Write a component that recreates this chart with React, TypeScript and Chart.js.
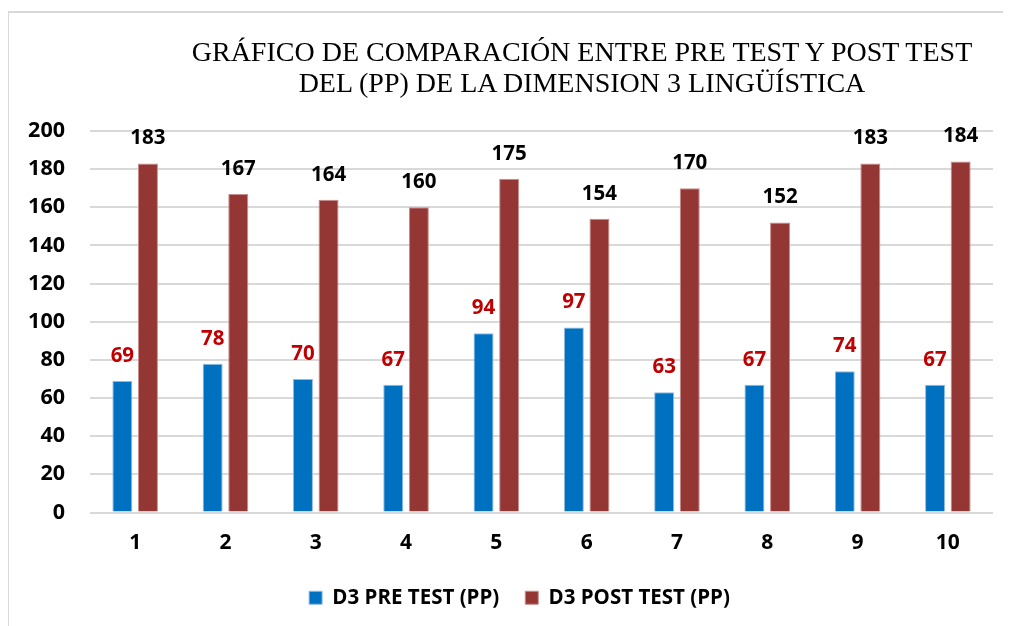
import React, { useEffect, useRef } from "react";
import { Chart, registerables } from "chart.js";

Chart.register(...registerables);

const categories = ["1", "2", "3", "4", "5", "6", "7", "8", "9", "10"];
const preTest = [69, 78, 70, 67, 94, 97, 63, 67, 74, 67];
const postTest = [183, 167, 164, 160, 175, 154, 170, 152, 183, 184];
const seriesNames = ["D3 PRE TEST (PP)", "D3 POST TEST (PP)"];
const titleLines = [
  "GRÁFICO DE COMPARACIÓN ENTRE PRE TEST Y POST TEST",
  "DEL (PP) DE LA DIMENSION 3 LINGÜÍSTICA",
];

const FONT = "'Open Sans', sans-serif";

const valueLabels = {
  id: "valueLabels",
  afterDatasetsDraw(chart: any) {
    const ctx = chart.ctx;
    ctx.save();
    ctx.font = `bold 20.5px ${FONT}`;
    ctx.textAlign = "center";
    ctx.textBaseline = "middle";
    chart.data.datasets.forEach((ds: any, i: number) => {
      const meta = chart.getDatasetMeta(i);
      ctx.fillStyle = i === 0 ? "#C00000" : "#000000";
      meta.data.forEach((el: any, j: number) => {
        ctx.fillText(String(ds.data[j]), el.x, el.y - 25);
      });
    });
    ctx.restore();
  },
};

const shiftLegend = {
  id: "shiftLegend",
  afterLayout(chart: any) {
    if (chart.legend) {
      chart.legend.left += 19;
      chart.legend.right += 19;
    }
  },
};

export default function App() {
  const ref = useRef<HTMLCanvasElement>(null);
  useEffect(() => {
    if (!ref.current) return;
    const chart = new Chart(ref.current, {
      type: "bar",
      data: {
        labels: categories,
        datasets: [
          {
            label: seriesNames[0],
            data: preTest,
            backgroundColor: "#0070C0",
            borderColor: "#8fbbe3",
            borderWidth: 1,
            categoryPercentage: 0.567,
            barPercentage: 0.781,
          },
          {
            label: seriesNames[1],
            data: postTest,
            backgroundColor: "#943634",
            borderColor: "#c98c8b",
            borderWidth: 1,
            categoryPercentage: 0.567,
            barPercentage: 0.781,
          },
        ],
      },
      options: {
        responsive: false,
        animation: false,
        layout: { padding: { top: 123, right: 18, left: 0, bottom: 8 } },
        plugins: {
          title: { display: false },
          tooltip: { enabled: false },
          legend: {
            position: "bottom",
            labels: {
              boxWidth: 13,
              boxHeight: 13,
              padding: 26,
              color: "#000",
              font: { family: FONT, weight: "bold", size: 20.5 },
            },
          },
        },
        scales: {
          x: {
            grid: { display: false },
            border: { display: false },
            ticks: {
              color: "#000",
              padding: 10,
              font: { family: FONT, weight: "bold", size: 21 },
            },
            afterFit: (s: any) => {
              s.height = 49;
            },
          },
          y: {
            min: 0,
            max: 200,
            ticks: {
              stepSize: 20,
              color: "#000",
              padding: 25,
              font: { family: FONT, weight: "bold", size: 21.5 },
            },
            grid: { color: "#d9d9d9", lineWidth: 2, drawTicks: false },
            border: { display: false },
            afterFit: (s: any) => {
              s.width = 82;
            },
          },
        },
      },
      plugins: [valueLabels, shiftLegend],
    } as any);
    return () => chart.destroy();
  }, []);

  return (
    <div style={{ position: "relative", width: 1003, height: 618 }}>
      <canvas ref={ref} width={1003} height={618} style={{ display: "block" }} />
      <div
        style={{
          position: "absolute",
          left: -1,
          top: 3,
          width: 1004,
          height: 615,
          boxSizing: "border-box",
          borderLeft: "2px solid #d9d9d9",
          borderTop: "2px solid #d9d9d9",
          pointerEvents: "none",
        }}
      />
      <div
        style={{
          position: "absolute",
          left: 124,
          top: 28,
          width: 900,
          textAlign: "center",
          fontFamily: "'Liberation Serif', 'Times New Roman', serif",
          fontSize: 28,
          lineHeight: "31px",
          color: "#000",
          whiteSpace: "nowrap",
        }}
      >
        {titleLines[0]}
        <br />
        {titleLines[1]}
      </div>
    </div>
  );
}
